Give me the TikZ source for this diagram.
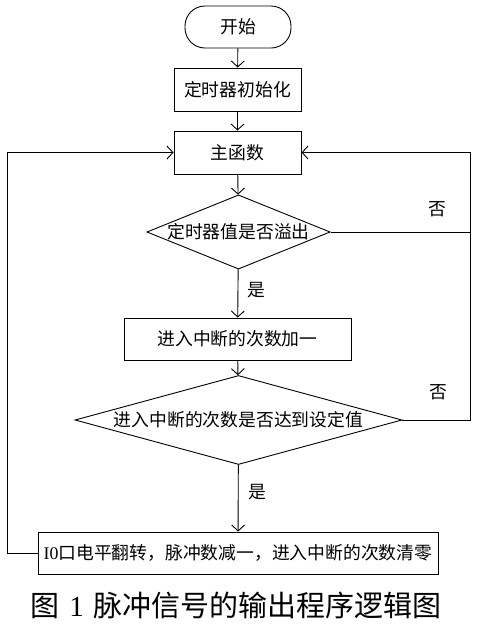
\documentclass[tikz,border=0pt]{standalone}
\usepackage{fontspec}
\setmainfont{Liberation Serif}
\newfontfamily\cjk{Noto Sans CJK SC}
\usetikzlibrary{shapes.geometric,arrows.meta}
\tikzset{
  base/.style={draw=black, line width=0.9pt, font=\fontsize{17.8}{20}\selectfont\cjk, inner sep=0pt, align=center},
  term/.style={base, rectangle, rounded corners=20pt, minimum width=106pt, minimum height=42pt},
  proc/.style={base, rectangle, minimum height=43pt},
  decision/.style={base, diamond},
  conn/.style={line width=0.9pt, draw=black},
  arr/.style={conn, -{Straight Barb[length=6pt,width=13pt,line width=0.9pt]}},
  lbl/.style={font=\fontsize{17.8}{20}\selectfont\cjk, inner sep=0pt}
}
\begin{document}
\begin{tikzpicture}[x=1pt,y=-1pt]
\useasboundingbox (0,0) rectangle (478,633);
\node[term] (start) at (238,27) {开始};
\node[proc, minimum width=127pt] (init) at (237.5,89.5) {定时器初始化};
\node[proc, minimum width=127pt] (main) at (237.5,152.5) {主函数};
\node[decision, shape aspect=2.47, minimum width=183pt, minimum height=74pt] (d1) at (238.5,232) {定时器值是否溢出};
\node[proc, minimum width=227pt, minimum height=42pt] (inc) at (237.5,339) {进入中断的次数加一};
\node[decision, shape aspect=3.67, minimum width=327pt, minimum height=89pt] (d2) at (238.5,420) {进入中断的次数是否达到设定值};
\node[proc, minimum width=400pt, minimum height=42pt] (io) at (238,553) {{\fontspec{Liberation Serif}I0}口电平翻转，脉冲数减一，进入中断的次数清零};
\node[lbl] (y1) at (256,290) {是};
\node[lbl] (y2) at (257,492) {是};
\node[lbl] (n1) at (437,209) {否};
\node[lbl] (n2) at (438,392) {否};
\coordinate (rt) at (470,152.5);
\coordinate (lt) at (7,152.5);
\draw[arr] (start) -- (init);
\draw[arr] (init) -- (main);
\draw[arr] (main) -- (d1);
\draw[arr] (d1) -- (inc);
\draw[arr] (inc) -- (d2);
\draw[arr] (d2) -- (io);
\draw[arr] (d1.east) -| (rt) -- (main.east);
\draw[conn] (d2.east) -| (rt);
\draw[arr] (io.west) -| (lt) -- (main.west);
\node[font=\fontsize{29}{32}\selectfont\cjk, inner sep=0pt] (cap) at (236,605) {图\hspace{0.35em}{\fontspec{Liberation Serif}1}\hspace{0.35em}脉冲信号的输出程序逻辑图};
\end{tikzpicture}
\end{document}
